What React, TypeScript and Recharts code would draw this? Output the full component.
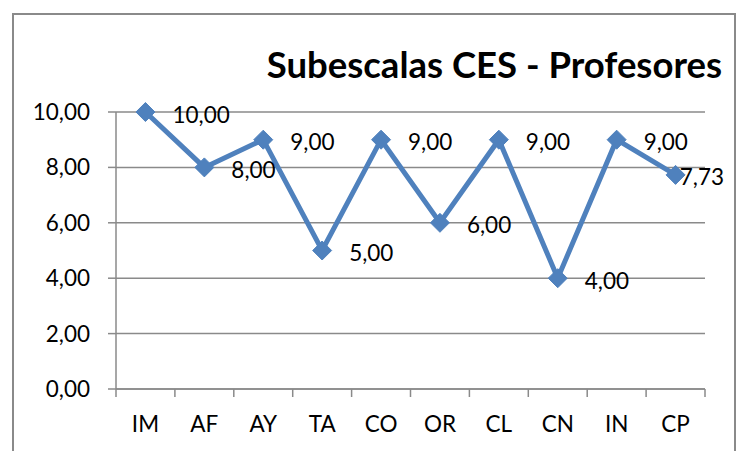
import { CartesianGrid, LabelList, Line, LineChart, XAxis, YAxis } from "recharts";

const categories = ["IM", "AF", "AY", "TA", "CO", "OR", "CL", "CN", "IN", "CP"];
const scores = [10, 8, 9, 5, 9, 6, 9, 4, 9, 7.73];
const yTicks = [0, 2, 4, 6, 8, 10];
const title = "Subescalas CES - Profesores";

const data = categories.map((name, i) => ({ name, value: scores[i] }));

const W = 744;
const H = 451;
const margin = { top: 112, right: 39, left: 0, bottom: 0 };
const yAxisWidth = 116;
const band = (W - yAxisWidth - margin.right) / categories.length;
const FONT = "Lato, 'Open Sans', sans-serif";
const GRID = "#8a8a8a";
const BLUE = "#4f81bd";

const fmt = (v: number) => v.toFixed(2).replace(".", ",");

function CategoryTick(props: any) {
  const { x, y, payload, index } = props;
  return (
    <g>
      {index === 0 && <line x1={x - band / 2} x2={x - band / 2} y1={y} y2={y + 8} stroke={GRID} strokeWidth={1.5} />}
      <line x1={x + band / 2} x2={x + band / 2} y1={y} y2={y + 8} stroke={GRID} strokeWidth={1.5} />
      <text x={x} y={y + 34} textAnchor="middle" dominantBaseline="central" fontSize={22.5} fontFamily={FONT} fill="#000">
        {payload.value}
      </text>
    </g>
  );
}

function Diamond(props: any) {
  const { cx, cy } = props;
  if (cx == null || cy == null) return null;
  const r = 9.5;
  return <path d={`M${cx},${cy - r}L${cx + r},${cy}L${cx},${cy + r}L${cx - r},${cy}Z`} fill={BLUE} stroke={BLUE} strokeWidth={1} />;
}

function PointLabel(props: any) {
  const { x, y, value } = props;
  const text = fmt(Number(value));
  const start = x + 27;
  const overflow = start + 44 > 724;
  return (
    <text
      x={overflow ? 724 : start}
      y={y + 2}
      textAnchor={overflow ? "end" : "start"}
      dominantBaseline="central"
      fontSize={22.5}
      fontFamily={FONT}
      fill="#000"
    >
      {text}
    </text>
  );
}

export default function App() {
  return (
    <div style={{ position: "fixed", left: 0, top: 0, width: W, height: H, background: "#fff", overflow: "hidden" }}>
      <div style={{ position: "absolute", left: 12, top: 13, width: 720, height: 460, border: `2px solid ${GRID}` }} />
      <svg width={W} height={H} style={{ position: "absolute", left: 0, top: 0 }}>
        <text x={722} y={78} textAnchor="end" fontSize={36.5} fontWeight={700} fontFamily={FONT} fill="#000">
          {title}
        </text>
      </svg>
      <div style={{ position: "absolute", left: 0, top: 0 }}>
        <LineChart width={W} height={H} data={data} margin={margin}>
          <CartesianGrid horizontal vertical={false} stroke={GRID} strokeWidth={1.5} />
          <XAxis
            dataKey="name"
            height={H - 389}
            padding={{ left: band / 2, right: band / 2 }}
            axisLine={{ stroke: GRID, strokeWidth: 1.5 }}
            tickLine={false}
            tickSize={0}
            tickMargin={0}
            tick={<CategoryTick />}
            interval={0}
          />
          <YAxis
            width={yAxisWidth}
            domain={[0, 10]}
            ticks={yTicks}
            tickFormatter={fmt}
            axisLine={{ stroke: GRID, strokeWidth: 1.5 }}
            tickLine={{ stroke: GRID, strokeWidth: 1.5 }}
            tickSize={8}
            tickMargin={18}
            tick={{ fontSize: 22.5, fontFamily: FONT, fill: "#000" }}
          />
          <Line
            dataKey="value"
            stroke={BLUE}
            strokeWidth={5}
            dot={<Diamond />}
            activeDot={false}
            isAnimationActive={false}
          >
            <LabelList dataKey="value" content={<PointLabel />} />
          </Line>
        </LineChart>
      </div>
    </div>
  );
}
